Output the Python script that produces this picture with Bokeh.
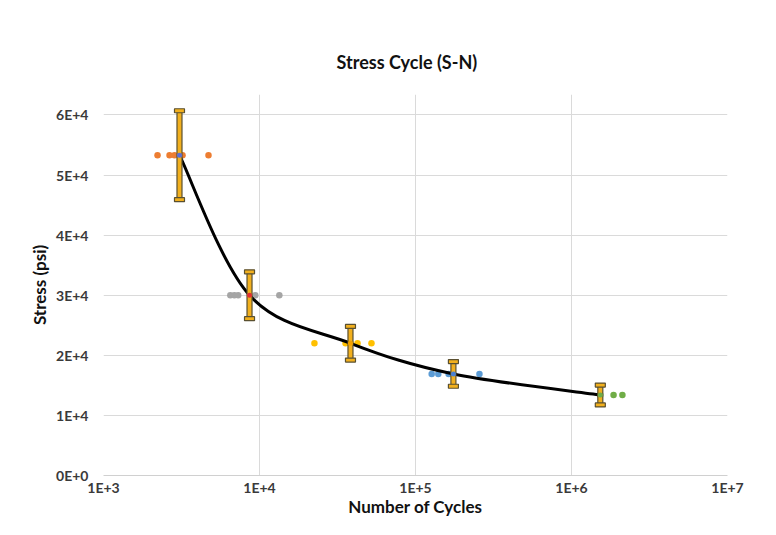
from bokeh.plotting import figure
from bokeh.models import Range1d, FixedTicker, ColumnDataSource
from bokeh.embed import file_html
from bokeh.resources import INLINE
import numpy as np

# ---- data ----
g1_cycles = [2220, 2650, 2850, 3210, 4710]
g1_stress = [53300] * 5
g2_cycles = [6500, 6900, 7300, 9400, 13400]
g2_stress = [30000] * 5
g3_cycles = [22500, 35600, 38300, 42500, 52200]
g3_stress = [22000] * 5
g4_cycles = [127000, 140000, 163000, 175000, 257000]
g4_stress = [16900] * 5
g5_cycles = [1530000, 1860000, 2120000]
g5_stress = [13400] * 3

mean_cycles = [3070, 8630, 38300, 175000, 1530000]
mean_stress = [53300, 30000, 22000, 16900, 13400]
stress_err = [7400, 3900, 2800, 2050, 1650]
mean_colors = ["#5b6fd6", "#e03030", "#f0a000", "#4a7fd0", "#70AD47"]

x_ticks = [1e3, 1e4, 1e5, 1e6, 1e7]
x_labels = ["1E+3", "1E+4", "1E+5", "1E+6", "1E+7"]
y_ticks = [0, 10000, 20000, 30000, 40000, 50000, 60000]
y_labels = ["0E+0", "1E+4", "2E+4", "3E+4", "4E+4", "5E+4", "6E+4"]

FONT = "Lato"

p = figure(width=760, height=519, x_axis_type="log",
           x_range=Range1d(1e3, 1e7), y_range=Range1d(0, 63400),
           output_backend="svg", toolbar_location=None,
           min_border_left=103, min_border_right=33, min_border_top=94,
           min_border_bottom=4, title="Stress Cycle (S-N)")
p.background_fill_color = "white"
p.border_fill_color = "white"
p.outline_line_color = None

p.title.align = "left"
p.title.offset = 233
p.title.text_font = FONT
p.title.text_font_size = "18px"
p.title.text_font_style = "bold"
p.title.text_color = "#111111"
p.title.standoff = 44

p.xaxis.ticker = FixedTicker(ticks=x_ticks)
p.xaxis.major_label_overrides = dict(zip(x_ticks, x_labels))
p.yaxis.ticker = FixedTicker(ticks=y_ticks)
p.yaxis.major_label_overrides = dict(zip(y_ticks, y_labels))
p.xaxis.minor_tick_line_color = None
p.yaxis.minor_tick_line_color = None
for ax in (p.xaxis, p.yaxis):
    ax.major_tick_line_color = None
    ax.major_tick_out = 0
    ax.major_label_text_font = FONT
    ax.major_label_text_font_size = "14px"
    ax.major_label_text_font_style = "bold"
    ax.major_label_text_color = "#3a3a3a"
    ax.axis_label_text_font = FONT
    ax.axis_label_text_font_size = "17px"
    ax.axis_label_text_font_style = "bold"
    ax.axis_label_text_color = "#111111"
p.yaxis.axis_line_color = None
p.xaxis.axis_line_color = "#d0d0d0"
p.yaxis.major_label_standoff = 15
p.xaxis.major_label_standoff = 3
p.yaxis.axis_label = "Stress (psi)"
p.xaxis.axis_label = "Number of Cycles"
p.yaxis.axis_label_standoff = 3
p.xaxis.axis_label_standoff = -3

p.xgrid.grid_line_color = "#dadada"
p.ygrid.grid_line_color = "#dadada"
p.xgrid.ticker = FixedTicker(ticks=x_ticks)
p.ygrid.ticker = FixedTicker(ticks=y_ticks[1:])

# ---- scatter groups ----
groups = [(g1_cycles, g1_stress, "#ED7D31"), (g2_cycles, g2_stress, "#A5A5A5"),
          (g3_cycles, g3_stress, "#FFC000"), (g4_cycles, g4_stress, "#5B9BD5"),
          (g5_cycles, g5_stress, "#70AD47")]
for cx, sy, col in groups:
    p.scatter(cx, sy, size=6.5, fill_color=col, line_color=None)

# ---- smooth curve through means (Catmull-Rom bezier in screen-proportional space) ----
px_per_dec = 156.0
px_per_unit = 61.5 / 10000.0
u = np.log10(mean_cycles) * px_per_dec
v = np.array(mean_stress) * px_per_unit
n = len(u)
x0s, y0s, x1s, y1s, c0x, c0y, c1x, c1y = [], [], [], [], [], [], [], []
for i in range(n - 1):
    pm = i - 1 if i > 0 else i
    pp = i + 2 if i + 2 < n else i + 1
    a_u = u[i] + (u[i + 1] - u[pm]) / 6.0
    a_v = v[i] + (v[i + 1] - v[pm]) / 6.0
    b_u = u[i + 1] - (u[pp] - u[i]) / 6.0
    b_v = v[i + 1] - (v[pp] - v[i]) / 6.0
    x0s.append(mean_cycles[i]); y0s.append(mean_stress[i])
    x1s.append(mean_cycles[i + 1]); y1s.append(mean_stress[i + 1])
    c0x.append(10 ** (a_u / px_per_dec)); c0y.append(a_v / px_per_unit)
    c1x.append(10 ** (b_u / px_per_dec)); c1y.append(b_v / px_per_unit)
p.bezier(x0=x0s, y0=y0s, x1=x1s, y1=y1s, cx0=c0x, cy0=c0y, cx1=c1x, cy1=c1y,
         line_color="black", line_width=3)

# ---- error bars ----
lo = [m - e for m, e in zip(mean_stress, stress_err)]
hi = [m + e for m, e in zip(mean_stress, stress_err)]
src = ColumnDataSource(dict(x=mean_cycles, y=mean_stress, lo=lo, hi=hi,
                            h=[2 * e for e in stress_err], c=mean_colors))
p.rect(x="x", y="y", width=5, height="h", width_units="screen", source=src,
       fill_color="#F2B01E", line_color="#5a5030", line_width=1.2)
p.rect(x="x", y="hi", width=10, height=4, width_units="screen", height_units="screen",
       source=src, fill_color="#F2B01E", line_color="#5a5030", line_width=1.2)
p.rect(x="x", y="lo", width=10, height=4, width_units="screen", height_units="screen",
       source=src, fill_color="#F2B01E", line_color="#5a5030", line_width=1.2)
p.scatter(x="x", y="y", size=5, fill_color="c", line_color=None, source=src)

open("out.html", "w").write(file_html(p, INLINE))
